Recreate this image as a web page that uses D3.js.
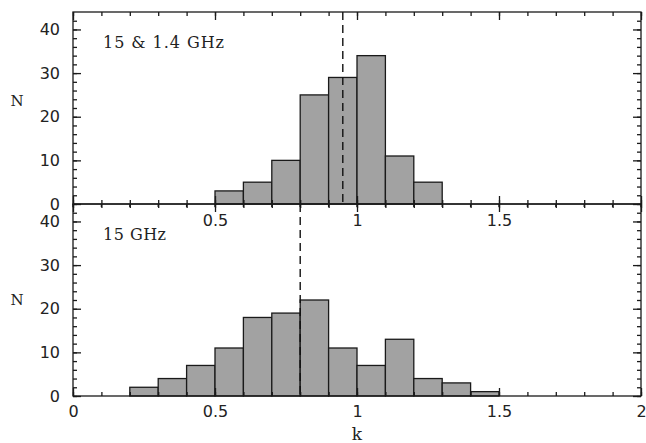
<!DOCTYPE html>
<html>
<head>
<meta charset="utf-8">
<script src="https://cdn.jsdelivr.net/npm/d3@7"></script>
<style>
  body { margin: 0; background: #fff; }
  text { fill: #222; }
</style>
</head>
<body>
<div id="main"></div>
<script>
// histogram data, bins are 0.1 wide, given by left edge
const binWidth = 0.1
const topBins = [0.5, 0.6, 0.7, 0.8, 0.9, 1.0, 1.1, 1.2]
const topCounts = [3, 5, 10, 25, 29, 34, 11, 5]
const bottomBins = [0.2, 0.3, 0.4, 0.5, 0.6, 0.7, 0.8, 0.9, 1.0, 1.1, 1.2, 1.3, 1.4]
const bottomCounts = [2, 4, 7, 11, 18, 19, 22, 11, 7, 13, 4, 3, 1]
const topMark = 0.95
const bottomMark = 0.8
const panelLabels = ["15 & 1.4 GHz", "15 GHz"]
const xMajor = [0, 0.5, 1, 1.5, 2]
const xMinor = d3.range(0, 2.001, 0.1)
const yMajor = [0, 10, 20, 30, 40]
const yMinor = d3.range(0, 44, 2)

let margin = {top: 12, left: 73, right: 5}
let width = 646, height = 443
let pw = width - margin.left - margin.right, ph = 192

let svg = d3.select("#main").append("svg")
    .attr("width", width)
    .attr("height", height)

let scX = d3.scaleLinear().domain([0, 2]).range([0, pw])
let scY = d3.scaleLinear().domain([0, 44]).range([ph, 0])

let fmt = d => d3.format("~g")(d)

function drawPanel(idx, bins, counts, mark, label) {
    let g = svg.append("g")
        .attr("transform", `translate(${margin.left} ${margin.top + idx * ph})`)

    g.selectAll("rect.bar").data(counts).enter()
        .append("rect")
        .attr("class", "bar")
        .attr("x", (d, i) => scX(bins[i]))
        .attr("width", (d, i) => scX(bins[i] + binWidth) - scX(bins[i]))
        .attr("y", d => scY(d))
        .attr("height", d => ph - scY(d))
        .attr("fill", "#a2a2a2")
        .attr("stroke", "#1a1a1a")
        .attr("stroke-width", 1.3)

    g.append("line")
        .attr("x1", scX(mark)).attr("x2", scX(mark))
        .attr("y1", 0).attr("y2", ph)
        .attr("stroke", "#111")
        .attr("stroke-width", 1.4)
        .attr("stroke-dasharray", "8 5")

    g.append("rect")
        .attr("width", pw).attr("height", ph)
        .attr("fill", "none")
        .attr("stroke", "#1a1a1a")
        .attr("stroke-width", 1.3)

    // ticks, all pointing inward
    let axes = [
        [d3.axisLeft(scY), yMinor, -4, null],
        [d3.axisLeft(scY), yMajor, -8, fmt],
        [d3.axisRight(scY), yMinor, -4, null, `translate(${pw} 0)`],
        [d3.axisRight(scY), yMajor, -8, null, `translate(${pw} 0)`],
        [d3.axisTop(scX), xMinor, -4, null],
        [d3.axisTop(scX), xMajor, -8, null],
        [d3.axisBottom(scX), xMinor, -4, null, `translate(0 ${ph})`],
        [d3.axisBottom(scX), xMajor, -8, idx == 0 ? (d => (d > 0 && d < 2) ? fmt(d) : "") : fmt, `translate(0 ${ph})`]
    ]
    axes.forEach(([axis, vals, size, f, tr]) => {
        let a = g.append("g")
            .attr("transform", tr || null)
            .call(axis.tickValues(vals).tickSize(size).tickPadding(f ? (vals === yMajor ? 13 : (idx == 0 ? 10.5 : 9.5)) : 0)
                .tickFormat(f || ""))
        a.select(".domain").remove()
        a.selectAll("line").attr("stroke", "#1a1a1a").attr("stroke-width", 1.3)
        a.selectAll("text")
            .attr("font-family", "DejaVu Sans")
            .attr("font-size", 16)
            .attr("fill", "#222")
    })

    // shared border: ticks poke a little below into the lower panel
    if (idx == 0) {
        g.append("g").selectAll("line").data(xMinor).enter()
            .append("line")
            .attr("x1", d => scX(d)).attr("x2", d => scX(d))
            .attr("y1", ph).attr("y2", ph + 3)
            .attr("stroke", "#1a1a1a").attr("stroke-width", 1.3)
    }

    g.append("text")
        .attr("x", 30)
        .attr("y", 36)
        .attr("font-family", "DejaVu Serif")
        .attr("font-size", 16)
        .attr("textLength", idx == 0 ? 121 : 63)
        .attr("lengthAdjust", "spacing")
        .text(label)

    svg.append("text")
        .attr("x", 17)
        .attr("y", margin.top + idx * ph + ph / 2 + (idx == 0 ? -2 : 5))
        .attr("text-anchor", "middle")
        .attr("font-family", "DejaVu Serif")
        .attr("font-size", 15)
        .text("N")
}

drawPanel(0, topBins, topCounts, topMark, panelLabels[0])
drawPanel(1, bottomBins, bottomCounts, bottomMark, panelLabels[1])

svg.append("text")
    .attr("x", margin.left + scX(1))
    .attr("y", 440)
    .attr("text-anchor", "middle")
    .attr("font-family", "DejaVu Serif")
    .attr("font-size", 17)
    .text("k")
</script>
</body>
</html>
